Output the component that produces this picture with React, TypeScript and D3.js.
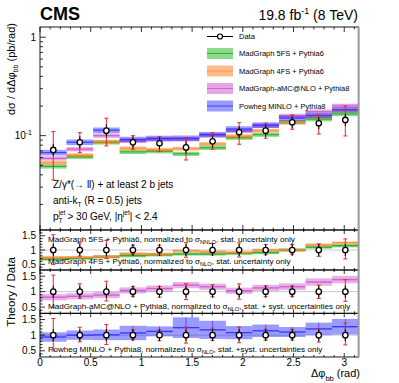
import React from 'react';
import * as d3 from 'd3';

// ---------- data ----------
const binEdges = [0, 0.2618, 0.5236, 0.7854, 1.0472, 1.309, 1.5708, 1.8326, 2.0944, 2.3562, 2.618, 2.8798, 3.1416];
const dataValues = [0.0716, 0.0857, 0.1124, 0.0855, 0.0837, 0.0760, 0.0875, 0.1083, 0.1124, 0.1368, 0.1337, 0.1444];
const dataHigh = [0.1099, 0.1073, 0.1503, 0.1000, 0.0977, 0.0955, 0.1073, 0.1355, 0.1337, 0.1623, 0.1623, 0.2004];
const dataLow = [0.0355, 0.0672, 0.0786, 0.0727, 0.0688, 0.0566, 0.0727, 0.0818, 0.0941, 0.1162, 0.1040, 0.0993];

const ratio5FS = [0.68, 0.71, 0.76, 0.80, 0.83, 0.86, 0.86, 0.88, 0.91, 1.00, 1.10, 1.15];
const ratio4FS = [0.74, 0.74, 0.77, 0.87, 0.86, 0.97, 0.94, 0.91, 1.00, 1.00, 1.18, 1.25];
const ratioAMC = [0.82, 0.85, 0.89, 1.04, 1.10, 1.21, 1.16, 1.03, 1.12, 1.16, 1.31, 1.39];
const ratioPowheg = [0.94, 1.00, 1.01, 1.07, 1.12, 1.24, 1.17, 1.08, 1.14, 1.10, 1.20, 1.27];

const unc5FS = [0.06, 0.06, 0.06, 0.06, 0.06, 0.06, 0.06, 0.06, 0.06, 0.06, 0.06, 0.06];
const unc4FS = [0.05, 0.05, 0.05, 0.05, 0.05, 0.05, 0.05, 0.05, 0.05, 0.05, 0.05, 0.05];
const uncAMC = [0.10, 0.10, 0.10, 0.10, 0.10, 0.10, 0.10, 0.10, 0.10, 0.11, 0.12, 0.12];
const uncPowheg = [0.15, 0.15, 0.17, 0.23, 0.16, 0.33, 0.29, 0.21, 0.20, 0.16, 0.20, 0.25];

const legendLabels = ['Data', 'MadGraph 5FS + Pythia6', 'MadGraph 4FS + Pythia6', 'MadGraph-aMC@NLO + Pythia8', 'Powheg MINLO + Pythia8'];
const xTickLabels = ['0', '0.5', '1', '1.5', '2', '2.5', '3'];
const xTickValues = [0, 0.5, 1, 1.5, 2, 2.5, 3];
const ratioTickValues = [0.5, 1, 1.5];
const ratioTickLabels = ['0.5', '1', '1.5'];

type Model = { key: string; ratio: number[]; unc: number[]; mainHalf: number; color: string; line: string };
const models: Model[] = [
  { key: '5FS', ratio: ratio5FS, unc: unc5FS, mainHalf: 0.05, color: '#00b000', line: '#1aa51a' },
  { key: '4FS', ratio: ratio4FS, unc: unc4FS, mainHalf: 0.045, color: '#ff6a00', line: '#ff8a3a' },
  { key: 'AMC', ratio: ratioAMC, unc: uncAMC, mainHalf: 0.05, color: '#c23cc2', line: '#cc55cc' },
  { key: 'POW', ratio: ratioPowheg, unc: uncPowheg, mainHalf: 0.065, color: '#1f1fff', line: '#2a2aff' },
];

const FONT = 'Liberation Sans, Arial, Helvetica, sans-serif';

export default function App() {
  const W = 399, H = 383;
  const L = 40, R = 358.6;
  const x = d3.scaleLinear().domain([0, Math.PI]).range([L, R]);
  const yMain = d3.scaleLog().domain([0.011, 1.27]).range([230, 27]);
  const panels = [
    { top: 230, bottom: 270, models: [models[0], models[1]] },
    { top: 270, bottom: 313.3, models: [models[2]] },
    { top: 313.3, bottom: 357, models: [models[3]] },
  ];
  const nb = dataValues.length;
  const bins = d3.range(nb);
  const centers = bins.map(i => (binEdges[i] + binEdges[i + 1]) / 2);

  const xMinor = d3.range(0, 3.15, 0.1).map(v => Math.round(v * 10) / 10);

  const xTicks = (top: number, bottom: number, maj: number, min: number) => (
    <g stroke="#000" strokeWidth={0.8}>
      {xMinor.map((v, i) => {
        const isMaj = Math.abs(v * 2 - Math.round(v * 2)) < 1e-6;
        const len = isMaj ? maj : min;
        return (
          <g key={i}>
            <line x1={x(v)} x2={x(v)} y1={bottom} y2={bottom - len} />
            <line x1={x(v)} x2={x(v)} y1={top} y2={top + len} />
          </g>
        );
      })}
    </g>
  );

  const mainMinor: number[] = [];
  [0.01, 0.1, 1].forEach(dec => {
    for (let k = 1; k <= 9; k++) {
      const v = dec * k;
      if (v >= 0.011 && v <= 1.27) mainMinor.push(v);
    }
  });

  const frame = (top: number, bottom: number) => (
    <rect x={L} y={top} width={R - L} height={bottom - top} fill="none" stroke="#000" strokeWidth={0.9} />
  );

  const dataPoint = (cx: number, cy: number, hiY: number, loY: number, key: string) => (
    <g key={key}>
      <line x1={cx} x2={cx} y1={hiY} y2={loY} stroke="#e8262b" strokeWidth={1} />
      <line x1={cx - 2} x2={cx + 2} y1={hiY} y2={hiY} stroke="#e8262b" strokeWidth={1} />
      <line x1={cx - 2} x2={cx + 2} y1={loY} y2={loY} stroke="#e8262b" strokeWidth={1} />
      <line x1={cx} x2={cx} y1={cy - 6} y2={cy + 6} stroke="#000" strokeWidth={1} />
      <circle cx={cx} cy={cy} r={2.7} fill="#fff" stroke="#000" strokeWidth={1.3} />
    </g>
  );

  return (
    <svg width={W} height={H} style={{ position: 'absolute', left: 0, top: 0, background: '#fff' }} fontFamily={FONT}>
      <rect x={0} y={0} width={W} height={H} fill="#fff" />
      <text x={40} y={20} fontSize={18} fontWeight="bold">CMS</text>
      <text x={358} y={20} fontSize={14} textAnchor="end">
        19.8 fb<tspan fontSize={9} dy={-6}>-1</tspan><tspan dy={6}> (8 TeV)</tspan>
      </text>

      {/* main panel MC bands */}
      {models.map(m => (
        <g key={m.key}>
          {bins.map(i => {
            const v = m.ratio[i] * dataValues[i];
            const x0 = x(binEdges[i]), x1 = x(binEdges[i + 1]);
            const yT = yMain(v * (1 + m.mainHalf)), yB = yMain(v * (1 - m.mainHalf));
            return (
              <g key={i}>
                <rect x={x0} y={yT} width={x1 - x0} height={yB - yT} fill={m.color} fillOpacity={0.45} />
                <line x1={x0} x2={x1} y1={yMain(v)} y2={yMain(v)} stroke={m.line} strokeWidth={1.2} strokeOpacity={0.8} />
              </g>
            );
          })}
        </g>
      ))}
      {bins.map(i => dataPoint(x(centers[i]), yMain(dataValues[i]), yMain(dataHigh[i]), yMain(dataLow[i]), 'd' + i))}

      {frame(27, 230)}
      {xTicks(27, 230, 5, 2.5)}
      <g stroke="#000" strokeWidth={0.8}>
        {mainMinor.map((v, i) => {
          const major = Math.abs(Math.log10(v) - Math.round(Math.log10(v))) < 1e-6;
          return <line key={i} x1={L} x2={L + (major ? 6 : 3)} y1={yMain(v)} y2={yMain(v)} />;
        })}
      </g>
      <text x={36} y={yMain(1) + 3.5} fontSize={10} textAnchor="end">1</text>
      <text x={32} y={yMain(0.1) + 3.5} fontSize={10} textAnchor="end">10<tspan fontSize={7} dy={-4}>-1</tspan></text>

      <text transform="translate(15,23) rotate(-90)" fontSize={11} textAnchor="end">
        dσ / dΔφ<tspan fontSize={7} dy={3}>bb</tspan><tspan dy={-3}> (pb/rad)</tspan>
      </text>

      {/* legend */}
      <g fontSize={7.5}>
        <line x1={207} x2={233} y1={36.5} y2={36.5} stroke="#000" strokeWidth={1} />
        <circle cx={220} cy={36.5} r={2.5} fill="#fff" stroke="#000" strokeWidth={1.2} />
        <text x={239} y={39.2}>{legendLabels[0]}</text>
        {models.map((m, k) => {
          const cy = 53.5 + k * 17.5;
          return (
            <g key={m.key}>
              <rect x={207} y={cy - 5.5} width={26} height={11} fill={m.color} fillOpacity={0.45} />
              <line x1={207} x2={233} y1={cy} y2={cy} stroke={m.line} strokeWidth={1} strokeOpacity={0.8} />
              <text x={239} y={cy + 2.7}>{legendLabels[k + 1]}</text>
            </g>
          );
        })}
      </g>

      {/* annotations */}
      <g fontSize={10}>
        <text x={53} y={188}>Z/γ*(→ ll) + at least 2 b jets</text>
        <text x={53} y={204}>anti-k<tspan fontSize={6.5} dy={2.5}>T</tspan><tspan dy={-2.5}> (R = 0.5) jets</tspan></text>
        <text x={53} y={220}>p<tspan fontSize={6.5} dy={-5}>jet</tspan></text>
        <text x={58.6} y={222.5} fontSize={6.5}>T</text>
        <text x={67.5} y={220}> &gt; 30 GeV, |η<tspan fontSize={6.5} dy={-5}>jet</tspan><tspan dy={5}>| &lt; 2.4</tspan></text>
      </g>

      {/* ratio panels */}
      {panels.map((p, pi) => {
        const yr = d3.scaleLinear().domain([0.3, 1.7]).range([p.bottom, p.top]);
        const rMinor = d3.range(0.4, 1.65, 0.1).map(v => Math.round(v * 10) / 10);
        return (
          <g key={pi}>
            <line x1={L} x2={R} y1={yr(1)} y2={yr(1)} stroke="#c8c8c8" strokeWidth={1} />
            {p.models.map(m => (
              <g key={m.key}>
                {bins.map(i => {
                  const r = m.ratio[i];
                  const x0 = x(binEdges[i]), x1 = x(binEdges[i + 1]);
                  const yT = yr(r + m.unc[i]), yB = yr(r - m.unc[i]);
                  return (
                    <g key={i}>
                      <rect x={x0} y={yT} width={x1 - x0} height={yB - yT} fill={m.color} fillOpacity={m.key === 'POW' ? 0.45 : 0.4} />
                      <line x1={x0} x2={x1} y1={yr(r)} y2={yr(r)} stroke={m.line} strokeWidth={1.4} strokeOpacity={0.85} />
                      {m.key === 'POW' && (
                        <line x1={x(centers[i])} x2={x(centers[i])} y1={yT} y2={yB} stroke={m.line} strokeWidth={1} strokeOpacity={0.6} />
                      )}
                    </g>
                  );
                })}
              </g>
            ))}
            {bins.map(i => dataPoint(x(centers[i]), yr(1), yr(dataHigh[i] / dataValues[i]), yr(dataLow[i] / dataValues[i]), 'r' + pi + '_' + i))}
            {frame(p.top, p.bottom)}
            {xTicks(p.top, p.bottom, 4, 2)}
            <g stroke="#000" strokeWidth={0.8}>
              {rMinor.map((v, i) => {
                const major = Math.abs(v * 2 - Math.round(v * 2)) < 1e-6;
                return <line key={i} x1={L} x2={L + (major ? 5 : 2.5)} y1={yr(v)} y2={yr(v)} />;
              })}
            </g>
            {ratioTickValues.map((v, i) => (
              <text key={i} x={36} y={yr(v) + 3.5} fontSize={10} textAnchor="end">{ratioTickLabels[i]}</text>
            ))}
          </g>
        );
      })}

      {/* ratio panel labels */}
      <g fontSize={8.1}>
        <text x={48} y={242}>MadGraph 5FS + Pythia6, normalized to σ<tspan fontSize={5.8} dy={2}>NNLO</tspan><tspan dy={-2}>, stat. uncertainty only</tspan></text>
        <text x={48} y={264}>MadGraph 4FS + Pythia6, normalized to σ<tspan fontSize={5.8} dy={2}>NLO</tspan><tspan dy={-2}>, stat. uncertainty only</tspan></text>
        <text x={48} y={309}>MadGraph-aMC@NLO + Pythia8, normalized to σ<tspan fontSize={5.8} dy={2}>NLO</tspan><tspan dy={-2}>, stat. + syst. uncertainties only</tspan></text>
        <text x={48} y={351.5}>Powheg MINLO + Pythia8, normalized to σ<tspan fontSize={5.8} dy={2}>NLO</tspan><tspan dy={-2}>, stat. +syst. uncertainties only</tspan></text>
      </g>

      <line x1={R} x2={R} y1={27} y2={357} stroke="#9a9a9a" strokeWidth={2} />

      {xTickValues.map((v, i) => (
        <text key={i} x={x(v)} y={366} fontSize={10} textAnchor="middle">{xTickLabels[i]}</text>
      ))}
      <text x={360} y={377} fontSize={11} textAnchor="end">Δφ<tspan fontSize={7.5} dy={4}>bb</tspan><tspan dy={-4}> (rad)</tspan></text>

      <text transform="translate(15,292) rotate(-90)" fontSize={11.5} textAnchor="middle">Theory / Data</text>
    </svg>
  );
}
